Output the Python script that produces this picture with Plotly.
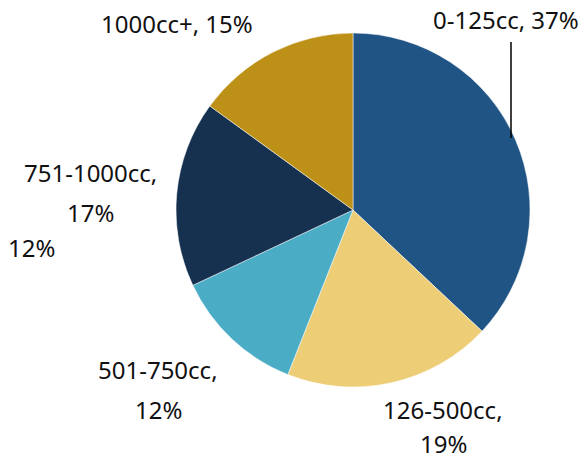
import plotly.graph_objects as go

categories = ["0-125cc", "126-500cc", "501-750cc", "751-1000cc", "1000cc+"]
values = [37, 19, 12, 17, 15]
colors = ["#1F5485", "#EDCD76", "#4BACC6", "#15314F", "#BD9118"]

W, H = 585, 460

fig = go.Figure(go.Pie(
    labels=categories,
    values=values,
    sort=False,
    direction="clockwise",
    rotation=0,
    textinfo="none",
    hoverinfo="label+percent",
    marker=dict(colors=colors, line=dict(color="white", width=0.5)),
    domain=dict(x=[176 / W, 530 / W], y=[1 - 387 / H, 1 - 33 / H]),
    showlegend=False,
))

def px(x, y):
    return x / W, 1 - y / H

lbl = [f"{c}, {v}%" for c, v in zip(categories, values)]
# label placements (pixel centres), layout only
placements = [
    (506, 20, [lbl[0]], 0),
    (443, 409, [categories[1] + ",", f"{values[1]}%"], 34.5),
    (158, 369, [categories[2] + ",", f"{values[2]}%"], 40.5),
    (90, 172, [categories[3] + ",", f"{values[3]}%"], 40.5),
    (177, 23, [lbl[4]], 0),
]
font = dict(family="Noto Sans, Open Sans, sans-serif", size=24, color="#111111")
annotations = []
for cx, cy, lines, gap in placements:
    for i, t in enumerate(lines):
        x, y = px(cx, cy + i * gap)
        annotations.append(dict(x=x, y=y, xref="paper", yref="paper", text=t,
                                showarrow=False, font=font, xanchor="center", yanchor="middle",
                                borderpad=0))
# stray clipped label at left
x, y = px(31, 247)
annotations.append(dict(x=x, y=y, xref="paper", yref="paper", text=f"{values[2]}%",
                        showarrow=False, font=font, xanchor="center", yanchor="middle",
                        borderpad=0))

x0, y0 = px(511, 42)
x1, y1 = px(511, 138)
fig.update_layout(
    width=W, height=H,
    margin=dict(l=0, r=0, t=0, b=0),
    paper_bgcolor="white",
    plot_bgcolor="white",
    annotations=annotations,
    shapes=[dict(type="line", xref="paper", yref="paper", x0=x0, y0=y0, x1=x1, y1=y1,
                 line=dict(color="black", width=1.5))],
)

fig.write_html("out.html")
